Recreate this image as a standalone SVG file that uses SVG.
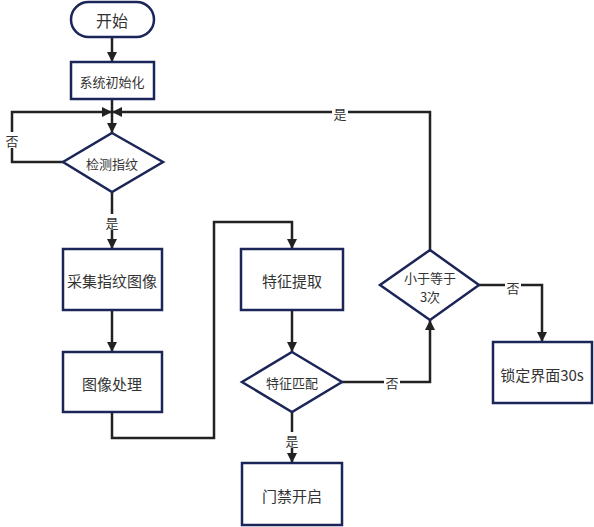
<svg xmlns="http://www.w3.org/2000/svg" width="594" height="527" viewBox="0 0 594 527">
<defs>
<marker id="arr" viewBox="0 0 10 10" refX="10" refY="5" markerWidth="10" markerHeight="10" markerUnits="userSpaceOnUse" orient="auto">
<path d="M0,0 L10,5 L0,10 Z" fill="#222"/>
</marker>
<style>
.n{fill:#fff;stroke:#1b2557;stroke-width:2.5}
.t{font-family:"Noto Sans CJK SC","Noto Sans",sans-serif;fill:#333;text-anchor:middle;dominant-baseline:central}
.c{fill:none;stroke:#222;stroke-width:2.5;marker-end:url(#arr)}
.cn{fill:none;stroke:#222;stroke-width:2.5}
.l{font-family:"Noto Sans CJK SC","Noto Sans",sans-serif;fill:#333;font-size:13px;text-anchor:middle;dominant-baseline:central}
.lb{fill:#fff}
</style>
</defs>
<rect width="594" height="527" fill="#fff"/>
<g id="connectors">
<path class="c" d="M112,38 V62"/>
<path class="cn" d="M112,99 V112"/>
<path class="c" d="M112,112 V133"/>
<path class="c" d="M63,162 H12 V112 H112"/>
<path class="c" d="M430,250 V112 H112"/>
<path class="c" d="M112,192 V249"/>
<path class="c" d="M112,310 V352"/>
<path class="c" d="M112,412 V438 H214 V222 H292 V249"/>
<path class="c" d="M292,310 V352"/>
<path class="c" d="M292,412 V463"/>
<path class="c" d="M342,382 H430 V320"/>
<path class="c" d="M479,285 H542 V342"/>
<rect class="lb" x="4" y="132" width="16" height="16"/>
<text class="l" x="12" y="140">否</text>
<rect class="lb" x="104" y="214" width="16" height="16"/>
<text class="l" x="112" y="222">是</text>
<rect class="lb" x="332" y="105" width="16" height="16"/>
<text class="l" x="340" y="113">是</text>
<rect class="lb" x="384" y="374" width="16" height="16"/>
<text class="l" x="392" y="382">否</text>
<rect class="lb" x="505" y="279" width="16" height="16"/>
<text class="l" x="513" y="287">否</text>
<rect class="lb" x="284" y="432" width="16" height="16"/>
<text class="l" x="292" y="440">是</text>
</g>
<g id="start">
<rect class="n" x="71" y="2" width="83" height="35" rx="17.5"/>
<text class="t" x="112" y="20" font-size="16">开始</text>
</g>
<g id="init">
<rect class="n" x="71" y="62" width="83" height="37"/>
<text class="t" x="112" y="81" font-size="13">系统初始化</text>
</g>
<g id="detect">
<polygon class="n" points="112,133 163,162 112,192 63,162"/>
<text class="t" x="112" y="163" font-size="13">检测指纹</text>
</g>
<g id="collect">
<rect class="n" x="63" y="249" width="99" height="61"/>
<text class="t" x="112" y="280" font-size="15">采集指纹图像</text>
</g>
<g id="process">
<rect class="n" x="63" y="352" width="99" height="60"/>
<text class="t" x="112" y="383" font-size="15">图像处理</text>
</g>
<g id="extract">
<rect class="n" x="241" y="249" width="102" height="61"/>
<text class="t" x="292" y="280" font-size="15">特征提取</text>
</g>
<g id="match">
<polygon class="n" points="292,352 342,382 292,412 242,382"/>
<text class="t" x="292" y="382" font-size="13">特征匹配</text>
</g>
<g id="open">
<rect class="n" x="242" y="463" width="100" height="62"/>
<text class="t" x="292" y="495" font-size="15">门禁开启</text>
</g>
<g id="count">
<polygon class="n" points="430,250 479,285 430,320 380,285"/>
<text class="t" x="430" y="277" font-size="13">小于等于</text>
<text class="t" x="430" y="296" font-size="13">3次</text>
</g>
<g id="lock">
<rect class="n" x="493" y="342" width="99" height="61"/>
<text class="t" x="542" y="374" font-size="15">锁定界面30s</text>
</g>
</svg>
